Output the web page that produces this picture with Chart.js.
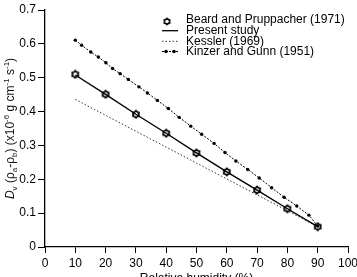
<!DOCTYPE html>
<html>
<head>
<meta charset="utf-8">
<script src="https://cdn.jsdelivr.net/npm/chart.js@4"></script>
<style>
    body { margin: 0; background: #fff; }
    #wrap { width: 357px; height: 277px; position: relative; }
</style>
</head>
<body>
<div id="wrap"><canvas id="chart"></canvas></div>
<script>
// Values
const rhTicks = [0, 10, 20, 30, 40, 50, 60, 70, 80, 90, 100];
const beardRH = [10, 20, 30, 40, 50, 60, 70, 80, 90];
const beardD = [0.51, 0.451, 0.392, 0.336, 0.278, 0.222, 0.168, 0.113, 0.06];
const presentRH = [10, 20, 30, 40, 50, 60, 70, 80, 90];
const presentD = [0.508, 0.451, 0.392, 0.336, 0.278, 0.222, 0.168, 0.113, 0.06];
const kesslerRH = [10, 20, 30, 40, 50, 60, 70, 80, 90];
const kesslerD = [0.436, 0.389, 0.342, 0.295, 0.248, 0.201, 0.154, 0.107, 0.06];
const kinzerRH = [10, 12.1, 15.1, 17.6, 20.1, 22.3, 24.8, 27.5, 31.0, 33.8, 37.1, 40.7, 44.3,
    48.1, 51.7, 55.8, 59.4, 63.0, 66.9, 70.7, 74.8, 78.9, 83.1, 87.1, 90];
const kinzerD = [0.611, 0.596, 0.576, 0.561, 0.544, 0.527, 0.512, 0.495, 0.473, 0.455, 0.433,
    0.409, 0.383, 0.357, 0.333, 0.306, 0.279, 0.254, 0.229, 0.204, 0.175, 0.147, 0.121, 0.094, 0.062];
const seriesLabels = ['Beard and Pruppacher (1971)', 'Present study', 'Kessler (1969)', 'Kinzer and Gunn (1951)'];

const FONT = '"Liberation Sans", Arial, Helvetica, sans-serif';
Chart.defaults.font.family = FONT;
Chart.defaults.font.size = 12;
Chart.defaults.color = '#000';

function xy(xs, ys) {
    return xs.map((x, i) => ({ x: x, y: ys[i] }));
}

// open six-pointed star marker
function makeStar(size) {
    const c = document.createElement('canvas');
    c.width = size; c.height = size;
    const g = c.getContext('2d');
    const m = size / 2;
    g.fillStyle = '#000';
    g.beginPath();
    for (let i = 0; i < 12; i++) {
        const r = i % 2 === 0 ? m - 0.3 : m * 0.72;
        const a = -Math.PI / 2 + i * Math.PI / 6;
        const px = m + r * Math.cos(a), py = m + r * Math.sin(a);
        if (i === 0) g.moveTo(px, py); else g.lineTo(px, py);
    }
    g.closePath();
    g.fill();
    g.fillStyle = '#fff';
    g.beginPath();
    g.arc(m, m, m * 0.4, 0, Math.PI * 2);
    g.fill();
    return c;
}
const starImg = makeStar(10);
const legendStar = makeStar(9);

// axis titles; the y one has sub/superscripts
const titlePlugin = {
    id: 'axisTitles',
    afterDraw(chart) {
        const ctx = chart.ctx;
        const parts = [
            { t: 'D', it: true }, { t: 'v', sub: true }, { t: ' (\u03c1' }, { t: 'a', sub: true },
            { t: '-\u03c1' }, { t: 'b', sub: true }, { t: ') (x10' }, { t: '-6', sup: true },
            { t: ' g cm' }, { t: '-1', sup: true }, { t: ' s' }, { t: '-1', sup: true }, { t: ')' }
        ];
        const fontFor = p => (p.it ? 'italic ' : '') + ((p.sub || p.sup) ? 8 : 12) + 'px ' + FONT;
        let total = 0;
        parts.forEach(p => { ctx.font = fontFor(p); p.w = ctx.measureText(p.t).width; total += p.w; });
        ctx.save();
        ctx.translate(10, (chart.chartArea.top + chart.chartArea.bottom) / 2);
        ctx.rotate(-Math.PI / 2);
        ctx.fillStyle = '#111';
        ctx.textBaseline = 'alphabetic';
        let x = -total / 2;
        parts.forEach(p => {
            ctx.font = fontFor(p);
            const dy = p.sub ? 3 : (p.sup ? -5 : 0);
            ctx.fillText(p.t, x, 4 + dy);
            x += p.w;
        });
        ctx.restore();

        // x title, partly cut by the bottom edge like the original
        ctx.save();
        ctx.font = '12px ' + FONT;
        ctx.textAlign = 'center';
        ctx.fillStyle = '#000';
        ctx.fillText('Relative humidity (%)', (chart.chartArea.left + chart.chartArea.right) / 2, 282);
        ctx.restore();
    }
};

// legend inside the plot, top right
const legendPlugin = {
    id: 'plotLegend',
    afterDraw(chart) {
        const ctx = chart.ctx;
        const rows = [20, 30.7, 41.3, 51.5];
        const x0 = 162, x1 = 178, tx = 186;
        ctx.save();
        ctx.font = '12px ' + FONT;
        ctx.fillStyle = '#000';
        ctx.textBaseline = 'middle';
        rows.forEach((y, i) => {
            ctx.fillText(seriesLabels[i], tx, y);
        });
        ctx.drawImage(legendStar, 167 - 4.5, rows[0] + 1.5 - 4.5);
        ctx.strokeStyle = '#000';
        ctx.lineWidth = 1.3;
        ctx.beginPath(); ctx.moveTo(x0, rows[1]); ctx.lineTo(x1, rows[1]); ctx.stroke();
        ctx.lineWidth = 1;
        ctx.strokeStyle = '#333';
        ctx.setLineDash([1.5, 2]);
        ctx.beginPath(); ctx.moveTo(x0, rows[2]); ctx.lineTo(x1, rows[2]); ctx.stroke();
        ctx.strokeStyle = '#000';
        ctx.setLineDash([2, 1.5]);
        ctx.beginPath(); ctx.moveTo(x0, rows[3]); ctx.lineTo(x1, rows[3]); ctx.stroke();
        ctx.setLineDash([]);
        [166, 174].forEach(px => {
            ctx.beginPath(); ctx.arc(px, rows[3], 1.8, 0, Math.PI * 2); ctx.fill();
        });
        ctx.restore();
    }
};

const ctx = document.getElementById('chart');
new Chart(ctx, {
    type: 'scatter',
    data: {
        datasets: [
            {
                label: seriesLabels[1],
                data: xy(presentRH, presentD),
                showLine: true,
                borderColor: '#000',
                borderWidth: 1.4,
                pointRadius: 0
            },
            {
                label: seriesLabels[2],
                data: xy(kesslerRH, kesslerD),
                showLine: true,
                borderColor: '#333',
                borderWidth: 1,
                borderDash: [1.5, 2],
                pointRadius: 0
            },
            {
                label: seriesLabels[3],
                data: xy(kinzerRH, kinzerD),
                showLine: true,
                borderColor: '#000',
                borderWidth: 1,
                borderDash: [2, 1.5],
                pointRadius: 1.7,
                pointBackgroundColor: '#000',
                pointBorderWidth: 0
            },
            {
                label: seriesLabels[0],
                data: xy(beardRH, beardD),
                showLine: false,
                pointStyle: starImg
            }
        ]
    },
    options: {
        responsive: true,
        maintainAspectRatio: false,
        animation: false,
        layout: { padding: { top: 10, right: 9, left: 0, bottom: 0 } },
        plugins: {
            legend: { display: false },
            tooltip: { enabled: false }
        },
        scales: {
            x: {
                type: 'linear',
                min: 0,
                max: 100,
                afterBuildTicks(scale) {
                    scale.ticks = rhTicks.map(v => ({ value: v }));
                },
                ticks: { padding: 3, maxRotation: 0, autoSkip: false, color: '#000' },
                grid: { display: true, drawOnChartArea: false, drawTicks: true, tickLength: 6, color: '#000', lineWidth: 1 },
                border: { display: true, color: '#000', width: 1.3 },
                afterFit(scale) {
                    scale.height = 30;
                    scale.paddingLeft = 0;
                    scale.paddingRight = 0;
                }
            },
            y: {
                min: 0,
                max: 0.7,
                ticks: {
                    stepSize: 0.1,
                    padding: 2,
                    color: '#000',
                    callback: v => v === 0 ? '0' : v.toFixed(1)
                },
                grid: { display: true, drawOnChartArea: false, drawTicks: true, tickLength: 7, color: '#000', lineWidth: 1 },
                border: { display: true, color: '#000', width: 1.3 },
                afterFit(scale) {
                    scale.width = 45;
                    scale.paddingTop = 0;
                    scale.paddingBottom = 0;
                }
            }
        }
    },
    plugins: [titlePlugin, legendPlugin]
});
</script>
</body>
</html>
